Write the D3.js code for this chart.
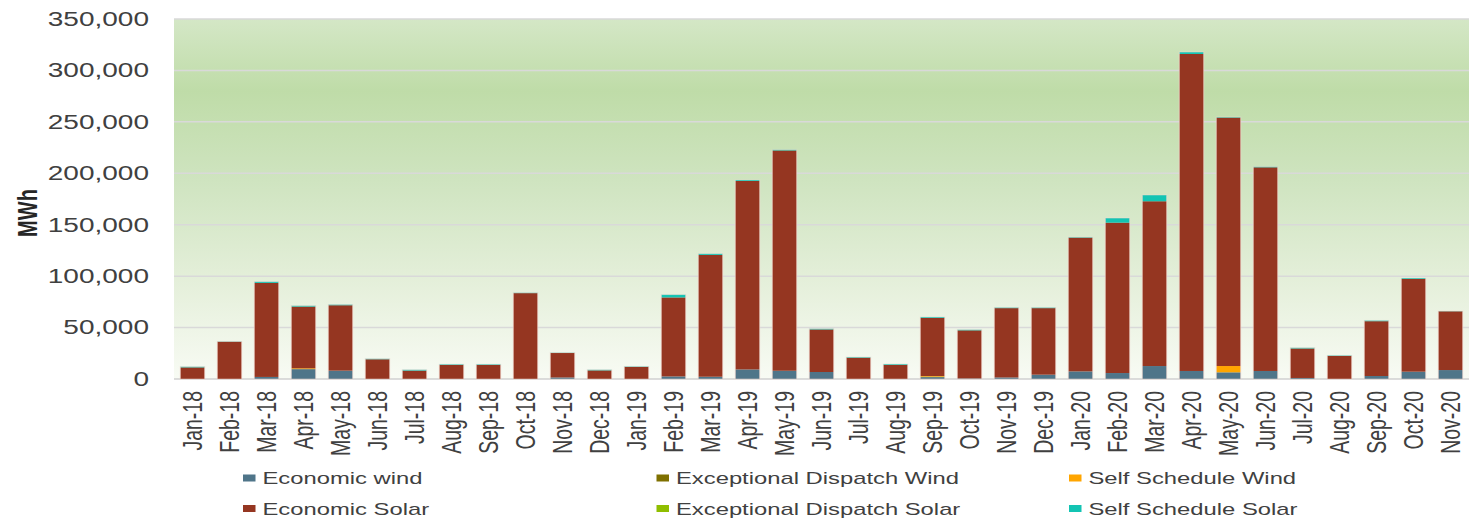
<!DOCTYPE html>
<html>
<head>
<meta charset="utf-8">
<script src="https://cdn.jsdelivr.net/npm/d3@7"></script>
<style>
  body { margin: 0; background: #fff; }
  svg { display: block; }
  text { font-family: "Liberation Sans", Arial, sans-serif; fill: #404040; }
</style>
</head>
<body>
<svg id="chart" width="1470" height="520"></svg>
<script>
// months on the x axis
var months = ["Jan-18","Feb-18","Mar-18","Apr-18","May-18","Jun-18","Jul-18","Aug-18","Sep-18","Oct-18","Nov-18","Dec-18",
              "Jan-19","Feb-19","Mar-19","Apr-19","May-19","Jun-19","Jul-19","Aug-19","Sep-19","Oct-19","Nov-19","Dec-19",
              "Jan-20","Feb-20","Mar-20","Apr-20","May-20","Jun-20","Jul-20","Aug-20","Sep-20","Oct-20","Nov-20"];

// MWh per series
var economicWind = [0,0,2000,9600,8100,0,0,0,0,0,1500,0,0,2500,2200,9300,8000,6800,0,0,1800,500,1500,4200,7400,5800,12600,7800,6500,7800,1000,0,2900,7100,8700];
var exceptionalWind = [0,0,0,0,0,0,0,0,0,0,0,0,0,0,0,0,0,0,0,0,500,0,0,0,0,0,0,0,0,0,0,0,0,0,0];
var selfWind = [0,0,0,800,0,0,0,0,0,0,0,0,0,0,0,0,0,0,0,0,600,0,0,0,0,0,0,0,6100,0,0,0,0,0,0];
var economicSolar = [11300,36300,91400,60000,63600,19200,8200,13700,13700,83500,23800,8400,11800,76800,118400,183200,214200,41400,20800,13800,56500,46800,67400,64700,130100,146200,160200,308200,241600,198000,28700,22400,53300,90200,57200];
var exceptionalSolar = [0,0,0,0,0,0,0,0,0,0,0,0,0,0,0,0,0,0,0,0,0,0,0,0,0,0,0,0,0,0,0,0,0,0,0];
var selfSolar = [700,300,1200,900,800,500,800,700,700,400,300,600,500,2700,1200,1000,700,700,600,800,900,700,700,700,500,4500,6100,1900,500,600,700,600,800,900,200];

var yTicks = [0,50000,100000,150000,200000,250000,300000,350000];

// stack order bottom -> top
var series = [
  { key: "Economic wind", values: economicWind, color: "#4f7589" },
  { key: "Exceptional Dispatch Wind", values: exceptionalWind, color: "#7f7000" },
  { key: "Self Schedule Wind", values: selfWind, color: "#ffa500" },
  { key: "Economic Solar", values: economicSolar, color: "#953621" },
  { key: "Exceptional Dispatch Solar", values: exceptionalSolar, color: "#8fbe00" },
  { key: "Self Schedule Solar", values: selfSolar, color: "#13c4b3" }
];
// legend layout: two rows, three columns
var legendOrder = ["Economic wind","Exceptional Dispatch Wind","Self Schedule Wind",
                   "Economic Solar","Exceptional Dispatch Solar","Self Schedule Solar"];

// the original picture is stretched sideways, so draw in a narrower box and stretch it
var stretch = 1.4;
var svg = d3.select("#chart")
    .attr("viewBox", "0 0 " + (1470 / stretch) + " 520")
    .attr("preserveAspectRatio", "none");

var plotLeft = 174 / stretch, plotRight = 1469 / stretch, plotTop = 19, plotBottom = 379;

var table = months.map(function (m, i) {
  var row = { month: m };
  series.forEach(function (s) { row[s.key] = s.values[i]; });
  return row;
});

var x = d3.scaleBand().domain(months).range([plotLeft, plotRight]).paddingInner(0.34).paddingOuter(0.17);
var y = d3.scaleLinear().domain([0, 350000]).range([plotBottom, plotTop]);

// background gradient of the plot area
var grad = svg.append("defs").append("linearGradient")
    .attr("id", "bg").attr("x1", 0).attr("y1", 0).attr("x2", 0).attr("y2", 1);
[[0, "#d4e7c6"], [0.2, "#bfdca8"], [0.45, "#cfe4c0"], [0.75, "#e6f0dc"], [1, "#f8fbf4"]].forEach(function (s) {
  grad.append("stop").attr("offset", s[0]).attr("stop-color", s[1]);
});
svg.append("rect")
    .attr("x", plotLeft).attr("y", plotTop)
    .attr("width", plotRight - plotLeft).attr("height", plotBottom - plotTop)
    .attr("fill", "url(#bg)");

// grid lines
svg.append("g")
  .selectAll("line")
  .data(yTicks)
  .enter().append("line")
    .attr("x1", plotLeft).attr("x2", plotRight)
    .attr("y1", function (d) { return y(d); })
    .attr("y2", function (d) { return y(d); })
    .attr("stroke", function (d) { return d === 0 ? "#d0d0d0" : "#d9d9d9"; })
    .attr("stroke-width", 1.5);

// y axis labels
var yAxis = svg.append("g")
    .attr("transform", "translate(" + (149 / stretch) + ",0)")
    .call(d3.axisLeft(y).tickValues(yTicks).tickSize(0).tickPadding(0).tickFormat(d3.format(",")));
yAxis.select(".domain").remove();
yAxis.selectAll("text")
    .style("font-size", "20px")
    .style("font-family", "'Liberation Sans', Arial, sans-serif")
    .attr("fill", "#404040");

// y title
svg.append("text")
    .attr("transform", "translate(" + (27 / stretch) + "," + 213 + ") rotate(-90)")
    .attr("text-anchor", "middle")
    .attr("dy", "0.35em")
    .style("font-size", "20px")
    .style("font-weight", "bold")
    .style("fill", "#262626")
    .text("MWh");

// stacked bars
var stack = d3.stack().keys(series.map(function (s) { return s.key; }));
var layers = stack(table);

svg.append("g")
  .selectAll("g")
  .data(layers)
  .enter().append("g")
    .attr("fill", function (d, i) { return series[i].color; })
  .selectAll("rect")
  .data(function (d) { return d; })
  .enter().append("rect")
    .attr("x", function (d) { return x(d.data.month); })
    .attr("width", x.bandwidth())
    .attr("y", function (d) { return y(d[1]); })
    .attr("height", function (d) { return y(d[0]) - y(d[1]); });

// light edge round each bar
function total(d) { return d3.sum(series, function (s) { return d[s.key]; }); }
svg.append("g")
  .selectAll("rect")
  .data(table)
  .enter().append("rect")
    .attr("x", function (d) { return x(d.month); })
    .attr("width", x.bandwidth())
    .attr("y", function (d) { return y(total(d)); })
    .attr("height", function (d) { return plotBottom - y(total(d)); })
    .attr("fill", "none")
    .attr("stroke", "#f3d9d0")
    .attr("stroke-opacity", 0.6)
    .attr("stroke-width", 0.8);

// x labels, rotated
svg.append("g")
  .selectAll("text")
  .data(months)
  .enter().append("text")
    .attr("transform", function (d) { return "translate(" + (x(d) + x.bandwidth() / 2) + ",391) rotate(-90)"; })
    .attr("text-anchor", "end")
    .attr("dy", "0.36em")
    .style("font-size", "19.5px")
    .text(function (d) { return d; });

// legend
var legendX = [243 / stretch, 656.5 / stretch, 1069 / stretch];
var legendY = [478, 508.5];
var legend = svg.append("g")
  .selectAll("g")
  .data(legendOrder)
  .enter().append("g")
    .attr("transform", function (d, i) { return "translate(" + legendX[i % 3] + "," + legendY[Math.floor(i / 3)] + ")"; });

legend.append("rect")
    .attr("x", 0).attr("y", -3.5)
    .attr("width", 12.5 / stretch).attr("height", 7)
    .attr("fill", function (d) { return series.find(function (s) { return s.key === d; }).color; });

legend.append("text")
    .attr("x", 19.5 / stretch)
    .attr("dy", "0.36em")
    .style("font-size", "17px")
    .text(function (d) { return d; });
</script>
</body>
</html>
